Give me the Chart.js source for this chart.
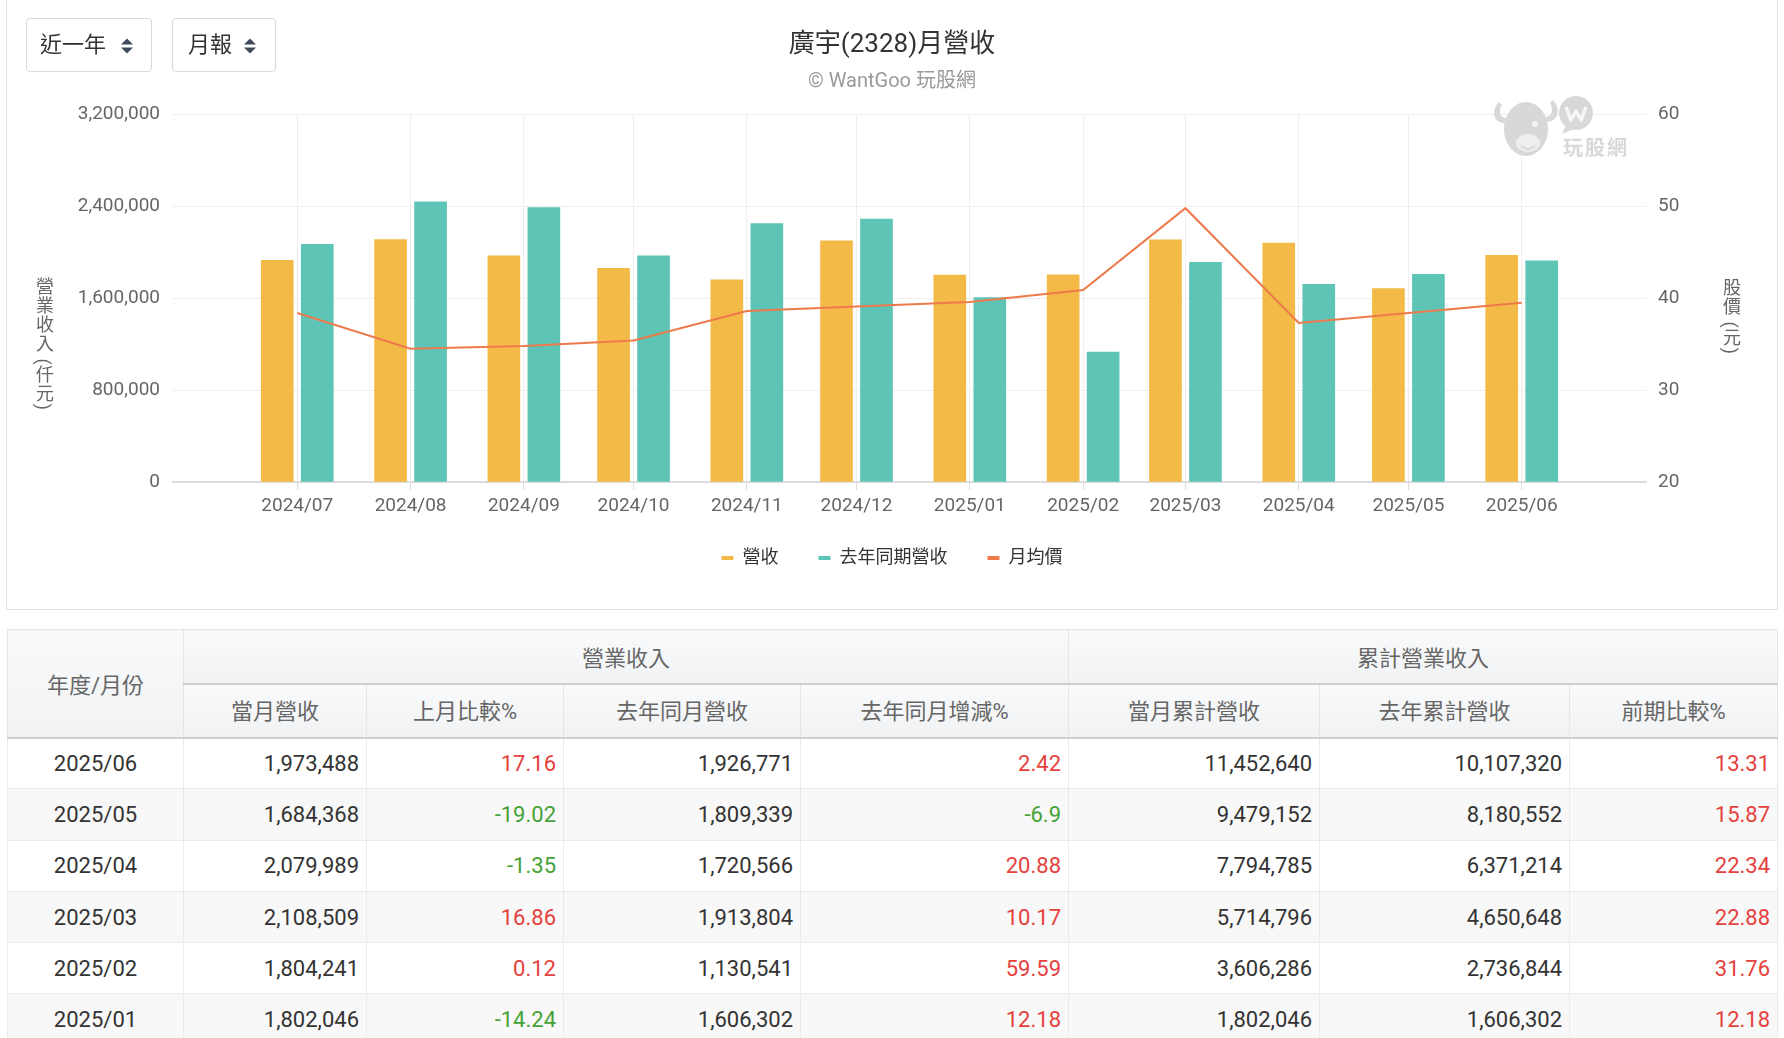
<!DOCTYPE html>
<html>
<head>
<meta charset="utf-8">
<script src="https://cdn.jsdelivr.net/npm/chart.js@4.4.1/dist/chart.umd.min.js"></script>
<style>
html,body{margin:0;padding:0;background:#fff;width:1784px;height:1038px;overflow:hidden;font-family:Roboto,"Noto Sans CJK TC",sans-serif;}
#card{position:absolute;left:6px;top:-2px;width:1772px;height:612px;border:1px solid #e3e3e3;box-sizing:border-box;}
#chartBox{position:absolute;left:0;top:0;width:1784px;height:600px;}
.sel{position:absolute;top:18px;height:54px;border:1px solid #d9d9d9;border-radius:4px;box-sizing:border-box;background:#fff;font-size:22px;color:#333;line-height:52px;}
.sel span{position:absolute;top:0;}
.sel svg{position:absolute;top:19px;}
#title{position:absolute;left:0;top:27px;width:1784px;text-align:center;font-size:26px;line-height:32px;color:#333;}
#subtitle{position:absolute;left:0;top:68px;width:1784px;text-align:center;font-size:20px;line-height:24px;color:#9a9a9a;}
.vt{position:absolute;writing-mode:vertical-rl;text-orientation:mixed;font-size:18px;line-height:18px;letter-spacing:1px;color:#666;}
#wm{position:absolute;left:1490px;top:92px;}
#tbl{position:absolute;left:7px;top:629px;width:1770px;border-collapse:collapse;table-layout:fixed;font-size:22px;color:#333;}
#tbl th{font-weight:normal;color:#666;background:linear-gradient(#f9fafb,#f1f2f4);border:1px solid #e6e6e6;padding:0;}
#tbl th.grp{border-bottom:2px solid #cfcfcf;}
#tbl tr.h2 th, #tbl th.first{border-bottom:2px solid #cfcfcf;}
#tbl tr.h2 th{padding-bottom:3px;}
#tbl tr.h1{height:54px;}
#tbl tr.h2{height:54px;}
#tbl tr.d{height:51.3px;}
#tbl td{border:1px solid #ebebeb;text-align:right;padding:0 7px 0 0;white-space:nowrap;}
#tbl td.m{text-align:center;padding:0;}
#tbl tr.d:nth-child(even) td{background:#f8f8f8;}
.up{color:#e5413d;}
.dn{color:#46a236;}
</style>
</head>
<body>
<div id="card"></div>
<div id="chartBox"><canvas id="c"></canvas></div>

<div class="sel" style="left:26px;width:126px;"><span style="left:13px;">近一年</span>
<svg style="left:93px" width="14" height="16" viewBox="0 0 14 16"><polygon points="1,6.5 7,0.5 13,6.5" fill="#3f4a5a"/><polygon points="1,9.5 7,15.5 13,9.5" fill="#3f4a5a"/></svg></div>
<div class="sel" style="left:172px;width:104px;"><span style="left:15px;">月報</span>
<svg style="left:70px" width="14" height="16" viewBox="0 0 14 16"><polygon points="1,6.5 7,0.5 13,6.5" fill="#3f4a5a"/><polygon points="1,9.5 7,15.5 13,9.5" fill="#3f4a5a"/></svg></div>

<div id="title">廣宇(2328)月營收</div>
<div id="subtitle">© WantGoo 玩股網</div>

<div class="vt" style="left:34px;top:277px;">營業收入 (仟元)</div>
<div class="vt" style="left:1721px;top:278px;">股價 (元)</div>

<svg id="wm" width="145" height="70" viewBox="0 0 145 70">
  <g fill="#d8d8d8">
    <path d="M9,10 C1,18 3,32 16,31 L17,26 C10,26 8,19 12,13 Z"/>
    <path d="M63,8 C71,16 69,30 56,30 L55,25 C62,25 64,18 60,11 Z"/>
    <ellipse cx="36" cy="37" rx="22" ry="27"/>
    <circle cx="86" cy="21" r="17"/>
    <path d="M76,33 L72,42 L84,37 Z"/>
  </g>
  <ellipse cx="38" cy="51" rx="12" ry="9" fill="#eeeeee"/>
  <path d="M31,54 Q38,60 45,54" stroke="#d8d8d8" stroke-width="2" fill="none"/>
  <circle cx="45" cy="32" r="3" fill="#f3f3f3"/>
  <path d="M76,15 L81,28 L86,19 L91,28 L96,15" stroke="#f7f7f7" stroke-width="3.5" fill="none" stroke-linejoin="round"/>
  <text x="73" y="63" font-size="20" font-weight="bold" fill="#d8d8d8" letter-spacing="2" font-family="Noto Sans CJK TC">玩股網</text>
</svg>

<table id="tbl">
  <colgroup>
    <col style="width:176px"><col style="width:183px"><col style="width:197px"><col style="width:237px">
    <col style="width:268px"><col style="width:251px"><col style="width:250px"><col style="width:208px">
  </colgroup>
  <thead>
    <tr class="h1"><th rowspan="2" class="first">年度/月份</th><th colspan="4" class="grp">營業收入</th><th colspan="3" class="grp">累計營業收入</th></tr>
    <tr class="h2"><th>當月營收</th><th>上月比較%</th><th>去年同月營收</th><th>去年同月增減%</th><th>當月累計營收</th><th>去年累計營收</th><th>前期比較%</th></tr>
  </thead>
  <tbody id="tb"></tbody>
</table>

<script>
// ---- chart data ----
const months = ['2024/07','2024/08','2024/09','2024/10','2024/11','2024/12','2025/01','2025/02','2025/03','2025/04','2025/05','2025/06'];
const revenue = [1930000, 2110000, 1970000, 1860000, 1760000, 2100000, 1802046, 1804241, 2108509, 2079989, 1684368, 1973488];
const revenueLastYear = [2070000, 2440000, 2390000, 1970000, 2250000, 2290000, 1606302, 1130541, 1913804, 1720566, 1809339, 1926771];
const avgPrice = [38.4, 34.5, 34.8, 35.4, 38.6, 39.1, 39.6, 40.9, 49.8, 37.3, 38.4, 39.5];
const leftTicks = [0, 800000, 1600000, 2400000, 3200000];
const rightTicks = [20, 30, 40, 50, 60];

// ---- table data ----
const tableMonths = ['2025/06','2025/05','2025/04','2025/03','2025/02','2025/01'];
const tableRevenue = [1973488, 1684368, 2079989, 2108509, 1804241, 1802046];
const tableMoM = [17.16, -19.02, -1.35, 16.86, 0.12, -14.24];
const tableLastYear = [1926771, 1809339, 1720566, 1913804, 1130541, 1606302];
const tableYoY = [2.42, -6.9, 20.88, 10.17, 59.59, 12.18];
const tableCum = [11452640, 9479152, 7794785, 5714796, 3606286, 1802046];
const tableCumLastYear = [10107320, 8180552, 6371214, 4650648, 2736844, 1606302];
const tableCumPct = [13.31, 15.87, 22.34, 22.88, 31.76, 12.18];

const fmt = v => v.toLocaleString('en-US');
const pct = v => `<td class="${v < 0 ? 'dn' : 'up'}">${v}</td>`;
document.getElementById('tb').innerHTML = tableMonths.map((m, i) =>
  `<tr class="d"><td class="m">${m}</td><td>${fmt(tableRevenue[i])}</td>${pct(tableMoM[i])}<td>${fmt(tableLastYear[i])}</td>${pct(tableYoY[i])}<td>${fmt(tableCum[i])}</td><td>${fmt(tableCumLastYear[i])}</td>${pct(tableCumPct[i])}</tr>`
).join('');

// month label -> day number (time axis)
const dayOf = s => { const [y, m] = s.split('/').map(Number); return Date.UTC(y, m - 1, 1) / 864e5; };
const xs = months.map(dayOf);
const pts = arr => arr.map((v, i) => ({x: xs[i], y: v}));

const FONT = 'Roboto, "Noto Sans CJK TC", sans-serif';
Chart.defaults.font.family = FONT;

const defaultLabels = Chart.defaults.plugins.legend.labels.generateLabels;

// move the legend up a little, closer to the axis labels
const legendNudge = {
  id: 'legendNudge',
  afterLayout(chart) {
    const l = chart.legend;
    if (l) { l.top -= 15; l.bottom -= 15; }
  }
};

new Chart(document.getElementById('c'), {
  type: 'bar',
  plugins: [legendNudge],
  data: {
    datasets: [
      {type: 'bar', label: '營收', data: pts(revenue), backgroundColor: '#F3BA48', borderWidth: 0,
       barThickness: 40, maxBarThickness: 32, yAxisID: 'y', order: 1},
      {type: 'bar', label: '去年同期營收', data: pts(revenueLastYear), backgroundColor: '#5EC5B6', borderWidth: 0,
       barThickness: 40, maxBarThickness: 32, yAxisID: 'y', order: 1},
      {type: 'line', label: '月均價', data: pts(avgPrice), borderColor: '#EE7A4C', backgroundColor: '#EE7A4C',
       borderWidth: 2, pointRadius: 0, tension: 0, yAxisID: 'y1', order: 0}
    ]
  },
  options: {
    responsive: true,
    maintainAspectRatio: false,
    animation: false,
    devicePixelRatio: 1,
    layout: {padding: {top: 114.5, left: 0, right: 0, bottom: 8}},
    plugins: {
      tooltip: {enabled: false},
      legend: {
        position: 'bottom',
        labels: {
          font: {size: 18}, color: '#333', boxWidth: 12, boxHeight: 4, padding: 40,
          generateLabels: chart => defaultLabels(chart).map(l => Object.assign(l, {lineWidth: 0})),
          sort: (a, b) => a.datasetIndex - b.datasetIndex
        }
      }
    },
    scales: {
      x: {
        type: 'linear',
        min: xs[0] - 34,
        max: xs[xs.length - 1] + 34,
        offset: false,
        afterBuildTicks: s => { s.ticks = xs.map(v => ({value: v})); },
        afterFit: s => { s.height = 42; },
        ticks: {
          autoSkip: false, maxRotation: 0, padding: 5, color: '#666', font: {size: 19},
          callback: v => months[xs.indexOf(v)] || ''
        },
        grid: {offset: false, color: '#efefef', tickLength: 8, tickColor: '#dcdcdc', drawTicks: true},
        border: {display: true, color: '#dcdcdc', width: 2}
      },
      y: {
        position: 'left', min: 0, max: 3200000,
        afterBuildTicks: s => { s.ticks = leftTicks.map(v => ({value: v})); },
        afterFit: s => { s.width = 173; },
        ticks: {padding: 13, color: '#666', font: {size: 19}, callback: v => fmt(v)},
        grid: {color: '#efefef', drawTicks: false},
        border: {display: false}
      },
      y1: {
        position: 'right', min: 20, max: 60,
        afterBuildTicks: s => { s.ticks = rightTicks.map(v => ({value: v})); },
        afterFit: s => { s.width = 138; },
        ticks: {padding: 12, color: '#666', font: {size: 19}},
        grid: {drawOnChartArea: false, drawTicks: false},
        border: {display: false}
      }
    }
  }
});
</script>
</body>
</html>
